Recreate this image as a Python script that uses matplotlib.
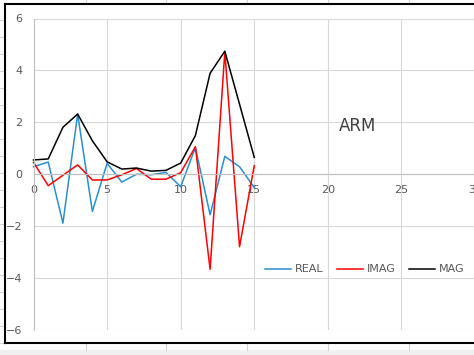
import matplotlib
matplotlib.use("Agg")
import matplotlib.pyplot as plt
from matplotlib.lines import Line2D

# ---- data ----
x_vals = list(range(16))
real = [0.29, 0.47, -1.88, 2.32, -1.43, 0.42, -0.30, 0.00, -0.02, 0.07, -0.48, 1.03, -1.56, 0.69, 0.29, -0.51]
imag = [0.46, -0.44, -0.04, 0.36, -0.22, -0.22, -0.02, 0.22, -0.19, -0.19, 0.06, 1.06, -3.66, 4.72, -2.79, 0.33]
mag = [0.55, 0.59, 1.81, 2.32, 1.29, 0.48, 0.20, 0.24, 0.12, 0.15, 0.43, 1.49, 3.89, 4.74, 2.70, 0.65]
x_ticks = [0, 5, 10, 15, 20, 25, 30]
y_ticks = [-6, -4, -2, 0, 2, 4, 6]
series_names = ["REAL", "IMAG", "MAG"]
series_colors = ["#2a8fd0", "#ff0000", "#000000"]
title_text = "ARM"

W, H = 474, 355
fig = plt.figure(figsize=(W / 100, H / 100), dpi=100)
fig.patch.set_facecolor("white")

# background (spreadsheet cells and chart border), pixel coordinates
bg = fig.add_axes([0, 0, 1, 1])
bg.set_xlim(0, W)
bg.set_ylim(H, 0)
bg.axis("off")
cell = "#d4d4d4"
for yy in range(20, 345, 17):
    bg.plot([0, 5], [yy, yy], color=cell, lw=0.8)
for xx in [86, 166, 247, 328, 409]:
    bg.plot([xx, xx], [0, 4], color=cell, lw=0.8)
    bg.plot([xx, xx], [343, 350], color=cell, lw=0.8)
bg.add_patch(plt.Rectangle((0, 350), W, 5, color="#f0f0f0", lw=0))
bg.plot([5, W], [4, 4], color="black", lw=1.5)
bg.plot([5, 5], [4, 343], color="black", lw=1.5)
bg.plot([5, W], [343, 343], color="black", lw=1.5)

# main axes
left_px, right_px, top_px, bot_px = 33.5, 475.0, 18.5, 330.0
ax = fig.add_axes([left_px / W, (H - bot_px) / H, (right_px - left_px) / W, (bot_px - top_px) / H])
ax.set_facecolor("none")
ax.set_xlim(0, 30)
ax.set_ylim(-6, 6)
ax.set_xticks(x_ticks)
ax.set_yticks(y_ticks)
ax.grid(True, color="#d9d9d9", lw=0.8)
ax.set_axisbelow(True)
for s in ["top", "right"]:
    ax.spines[s].set_visible(False)
ax.spines["left"].set_color("#bfbfbf")
ax.spines["left"].set_linewidth(0.8)
ax.spines["bottom"].set_position(("data", 0))
ax.spines["bottom"].set_color("#bfbfbf")
ax.spines["bottom"].set_linewidth(0.8)
ax.tick_params(axis="both", length=0, labelsize=8, labelcolor="#595959")
ax.tick_params(axis="x", pad=8)
ax.tick_params(axis="y", pad=8)

for vals, name, col in zip([real, imag, mag], series_names, series_colors):
    ax.plot(x_vals, vals, color=col, lw=1.1, label=name, clip_on=False)

ax.text(358 / W, 1 - 126 / H, title_text, transform=fig.transFigure, ha="center", va="center",
        fontsize=12, color="#404040")

leg = ax.legend(loc="center", bbox_to_anchor=(364.5 / W, 1 - 269.5 / H), bbox_transform=fig.transFigure,
                ncol=3, frameon=False, fontsize=8, handlelength=2.4, handletextpad=0.3,
                columnspacing=1.2, borderpad=0)
for t in leg.get_texts():
    t.set_color("#595959")

fig.savefig("out.png", dpi=100)
